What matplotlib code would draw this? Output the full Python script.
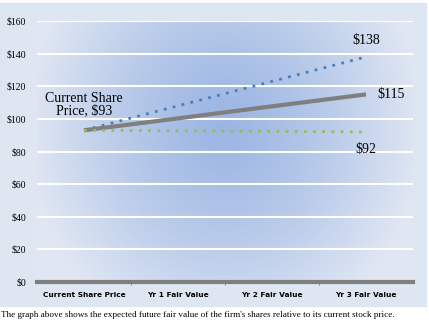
import numpy as np
import matplotlib.pyplot as plt
from matplotlib.patches import Rectangle

categories = ["Current Share Price", "Yr 1 Fair Value", "Yr 2 Fair Value", "Yr 3 Fair Value"]
high_case = [93, 108, 123, 138]
base_case = [93, 100.3, 107.7, 115]
low_case = [93, 92.7, 92.3, 92]
y_ticks = [0, 20, 40, 60, 80, 100, 120, 140, 160]

serif = "Liberation Serif"

fig = plt.figure(figsize=(4.29, 3.28), dpi=100)
# chart frame
fig.patches.append(Rectangle((0, 1 - 306 / 328), 426 / 429, 303 / 328,
                             transform=fig.transFigure, color="#dde6f1", zorder=0))

ax = fig.add_axes([37 / 429, 1 - 282 / 328, 376 / 429, 261 / 328])
ax.set_zorder(1)

# radial gradient background
gx, gy = np.meshgrid(np.linspace(0, 1, 200), np.linspace(0, 1, 200))
r = np.sqrt(((gx - 0.5) / 0.62) ** 2 + ((gy - 0.6) / 1.0) ** 2)
r = np.clip(r / 0.85, 0, 1) ** 1.3
c_in = np.array([0x9c, 0xb6, 0xe3]) / 255
c_out = np.array([0xe0, 0xe7, 0xf3]) / 255
img = c_in[None, None, :] * (1 - r[..., None]) + c_out[None, None, :] * r[..., None]
ax.imshow(img, extent=[-0.5, 3.5, 0, 160], aspect="auto", origin="lower", zorder=0)

x = np.arange(len(categories))
ax.plot(x, high_case, color="#4a7ebb", lw=2, ls=(0, (1, 2.3)), zorder=3)
ax.plot(x, base_case, color="#7f7f7f", lw=3, solid_capstyle="butt", zorder=3)
ax.plot(x, low_case, color="#9bbb59", lw=2, ls=(0, (1, 2.3)), zorder=3)

ax.set_xlim(-0.5, 3.5)
ax.set_ylim(0, 160)
ax.set_yticks(y_ticks)
ax.set_yticklabels(["$%d" % v for v in y_ticks], fontfamily=serif, fontsize=7)
for v in y_ticks[1:]:
    ax.axhline(v, color="white", lw=1.5, zorder=1)
ax.set_xticks(x)
ax.set_xticklabels(categories, fontfamily="DejaVu Sans", fontsize=5.3, fontweight="bold")
ax.set_xticks([0.5, 1.5, 2.5], minor=True)
ax.tick_params(axis="x", which="major", length=0, pad=7)
ax.tick_params(axis="x", which="minor", length=2, color="#7f7f7f")
ax.tick_params(axis="y", length=0, pad=8)
for s in ["top", "right", "left"]:
    ax.spines[s].set_visible(False)
ax.spines["bottom"].set_color("#7f7f7f")
ax.spines["bottom"].set_linewidth(3)
ax.spines["bottom"].set_zorder(4)

ax.text(3, 144, "$138", fontfamily=serif, fontsize=10, ha="center", va="bottom")
ax.text(3.12, 115, "$115", fontfamily=serif, fontsize=10, ha="left", va="center")
ax.text(3, 81, "$92", fontfamily=serif, fontsize=10, ha="center", va="center")
ax.text(0, 101, "Current Share\nPrice, $93", fontfamily=serif, fontsize=10,
        ha="center", va="bottom", linespacing=0.95)

fig.text(1 / 429, 1 - 315 / 328, "The graph above shows the expected future fair value "
         "of the firm's shares relative to its current stock price.",
         fontfamily=serif, fontsize=6.6, va="center", ha="left")

fig.savefig("out.png", dpi=100)
